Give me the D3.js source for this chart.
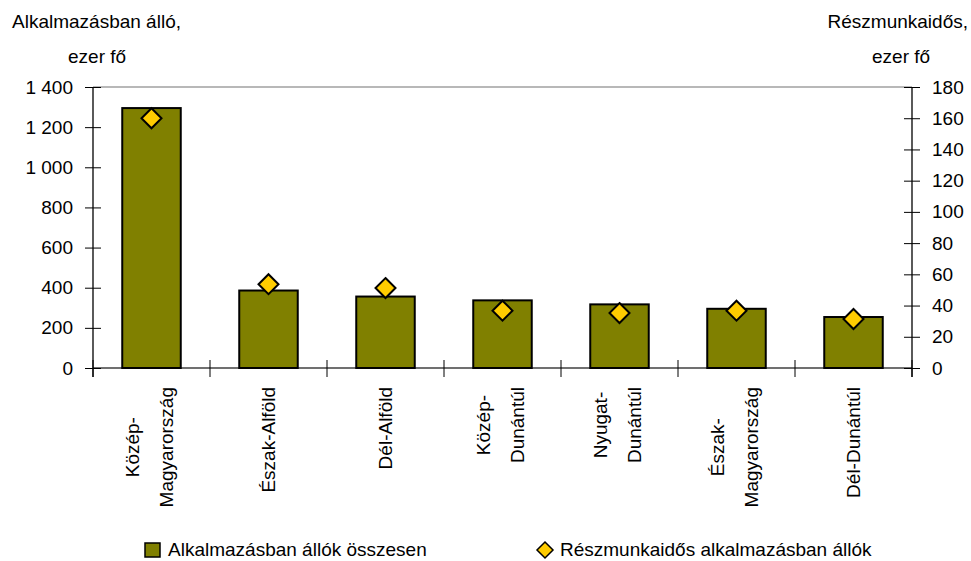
<!DOCTYPE html>
<html>
<head>
<meta charset="utf-8">
<script src="https://cdn.jsdelivr.net/npm/d3@7"></script>
<style>
  html, body { margin: 0; padding: 0; background: #fff; }
  svg { display: block; }
  text { font-family: "Liberation Sans", Arial, sans-serif; fill: #000; }
</style>
</head>
<body>
<svg id="chart" width="971" height="561"></svg>
<script>
// ---- data ----
const categories = ["Közép-\nMagyarország", "Észak-Alföld", "Dél-Alföld", "Közép-\nDunántúl", "Nyugat-\nDunántúl", "Észak-\nMagyarország", "Dél-Dunántúl"];
const employedTotal = [1295, 386, 356, 337, 317, 295, 254];
const partTime = [160, 53.7, 51.2, 36.7, 35.2, 36.7, 31.4];
const leftTicks = [0, 200, 400, 600, 800, 1000, 1200, 1400];
const rightTicks = [0, 20, 40, 60, 80, 100, 120, 140, 160, 180];
const leftTitle = ["Alkalmazásban álló,", "ezer fő"];
const rightTitle = ["Részmunkaidős,", "ezer fő"];
const legendLabels = ["Alkalmazásban állók összesen", "Részmunkaidős alkalmazásban állók"];

(function () {
// ---- layout ----
const FS = 19;
const svg = d3.select("#chart");
const pL = 93, pR = 912, pT = 87, pB = 368;

const x = d3.scaleBand().domain(d3.range(categories.length)).range([pL, pR])
  .paddingInner(0.5).paddingOuter(0.25);
const yL = d3.scaleLinear().domain([0, 1400]).range([pB, pT]);
const yR = d3.scaleLinear().domain([0, 180]).range([pB, pT]);

const fmt = d => d >= 1000 ? d3.format(",")(d).replace(/,/g, " ") : String(d);

// top frame line
svg.append("line").attr("x1", pL).attr("x2", pR).attr("y1", pT).attr("y2", pT)
  .attr("stroke", "#a0a0a0").attr("stroke-width", 1.5);

// x axis baseline
svg.append("line").attr("x1", pL).attr("x2", pR).attr("y1", pB).attr("y2", pB)
  .attr("stroke", "#404040").attr("stroke-width", 1.5);

// x axis ticks at category boundaries
const gap = (x.step() - x.bandwidth()) / 2;
const boundaries = d3.range(categories.length).map(i => x(i) - gap).concat([pR]);
svg.append("g").selectAll("line").data(boundaries).join("line")
  .attr("x1", d => d).attr("x2", d => d).attr("y1", pB - 8).attr("y2", pB + 9)
  .attr("stroke", "#000").attr("stroke-width", 1);

// left axis
const gL = svg.append("g").attr("transform", `translate(${pL},0)`)
  .call(d3.axisLeft(yL).tickValues(leftTicks).tickFormat(fmt).tickSize(8).tickPadding(12));
gL.select(".domain").remove();
gL.selectAll(".tick line").attr("x1", 8).attr("stroke", "#000");
gL.selectAll("text").attr("font-size", FS).attr("font-family", "Liberation Sans, Arial, sans-serif");
gL.append("line").attr("x1", 0).attr("x2", 0).attr("y1", pT).attr("y2", pB + 9)
  .attr("stroke", "#000").attr("stroke-width", 1.3);

// right axis
const gR = svg.append("g").attr("transform", `translate(${pR},0)`)
  .call(d3.axisRight(yR).tickValues(rightTicks).tickFormat(fmt).tickSize(8).tickPadding(12));
gR.select(".domain").remove();
gR.selectAll(".tick line").attr("x1", -8).attr("stroke", "#000");
gR.selectAll("text").attr("font-size", FS).attr("font-family", "Liberation Sans, Arial, sans-serif");
gR.append("line").attr("x1", 0).attr("x2", 0).attr("y1", pT).attr("y2", pB + 9)
  .attr("stroke", "#000").attr("stroke-width", 1.3);

// bars
svg.append("g").selectAll("rect").data(employedTotal).join("rect")
  .attr("x", (d, i) => x(i)).attr("width", x.bandwidth())
  .attr("y", d => yL(d)).attr("height", d => yL(0) - yL(d))
  .attr("fill", "#808000").attr("stroke", "#000").attr("stroke-width", 2);

// diamonds
const diamond = r => `M0,${-r}L${r},0L0,${r}L${-r},0Z`;
svg.append("g").selectAll("path").data(partTime).join("path")
  .attr("transform", (d, i) => `translate(${x(i) + x.bandwidth() / 2},${yR(d)})`)
  .attr("d", diamond(10))
  .attr("fill", "#FFCC00").attr("stroke", "#000").attr("stroke-width", 2);

// category labels (rotated)
const labTop = 387;
categories.forEach((c, i) => {
  const lines = c.split("\n");
  const cx = x(i) + x.bandwidth() / 2;
  const offsets = lines.length === 1 ? [6] : [-13, 21];
  const texts = lines.map(ln => svg.append("text").text(ln)
    .attr("font-size", FS).attr("text-anchor", "middle"));
  const maxLen = d3.max(texts, t => t.node().getComputedTextLength());
  const cy = labTop + maxLen / 2;
  texts.forEach((t, k) => t.attr("transform", `translate(${cx + offsets[k]},${cy}) rotate(-90)`));
});

// axis titles
svg.append("text").attr("x", 12).attr("y", 28).attr("font-size", FS).text(leftTitle[0]);
svg.append("text").attr("x", 68).attr("y", 63).attr("font-size", FS).text(leftTitle[1]);
svg.append("text").attr("x", 968).attr("y", 28).attr("font-size", FS).attr("text-anchor", "end").text(rightTitle[0]);
svg.append("text").attr("x", 872).attr("y", 63).attr("font-size", FS).text(rightTitle[1]);

// legend
const lg = svg.append("g");
lg.append("rect").attr("x", 145).attr("y", 543).attr("width", 15).attr("height", 14)
  .attr("fill", "#808000").attr("stroke", "#000").attr("stroke-width", 1.5);
lg.append("text").attr("x", 168).attr("y", 556).attr("font-size", FS).text(legendLabels[0]);
lg.append("path").attr("transform", "translate(545,550)").attr("d", diamond(8))
  .attr("fill", "#FFCC00").attr("stroke", "#000").attr("stroke-width", 1.5);
lg.append("text").attr("x", 560).attr("y", 556).attr("font-size", FS).text(legendLabels[1]);
})();
</script>
</body>
</html>
